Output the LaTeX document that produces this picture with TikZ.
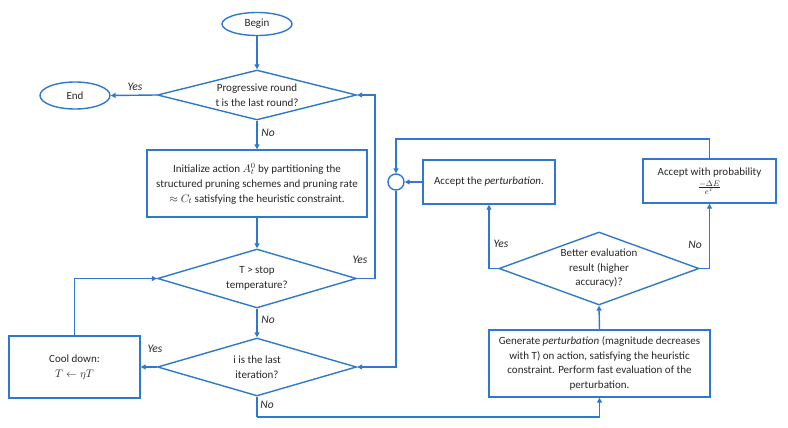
\documentclass[tikz,border=0pt]{standalone}
\usepackage{fontspec}
\setmainfont{Carlito}
\usetikzlibrary{shapes.geometric,arrows.meta}
\definecolor{fb}{RGB}{46,120,206}
\tikzset{
  base/.style={draw=fb, line width=1.4pt, font=\fontsize{11}{14.5}\selectfont, text=black!85, align=center},
  term/.style={base, ellipse, inner sep=0pt},
  dec/.style={base, diamond, inner sep=0pt, aspect=3.2},
  proc/.style={base, rectangle, inner sep=2pt},
  conn/.style={draw=fb, line width=1.4pt, -{Triangle[length=5pt,width=5pt]}},
  plain/.style={draw=fb, line width=1.4pt},
  lab/.style={font=\fontsize{11.5}{13}\selectfont\itshape, text=black!85}
}
\begin{document}
\begin{tikzpicture}[x=1pt,y=-1pt]
\useasboundingbox (0,0) rectangle (788,428);
% nodes
\node[term, minimum width=70pt, minimum height=23pt] (begin) at (257,24) {Begin};
\node[term, minimum width=70pt, minimum height=27pt] (end) at (75,95.5) {End};
\node[dec, minimum width=199pt, minimum height=50pt] (d1) at (257,95) {Progressive round\\t is the last round?};
\node[proc, minimum width=220pt, minimum height=67pt] (init) at (257,183.5) {Initialize action $A_t^0$ by partitioning the\\[1pt]structured pruning schemes and pruning rate\\$\approx C_t$ satisfying the heuristic constraint.};
\node[dec, minimum width=199pt, minimum height=59pt] (d2) at (257,278.5) {T > stop\\temperature?};
\node[dec, minimum width=199pt, minimum height=58pt] (d3) at (257,367) {i is the last\\iteration?};
\node[proc, minimum width=131pt, minimum height=62pt] (cool) at (74.5,367) {Cool down:\\$T \leftarrow \eta T$};
\node[proc, minimum width=221pt, minimum height=67pt] (gen) at (599.5,363.5) {Generate \textit{perturbation} (magnitude decreases\\with T) on action, satisfying the heuristic\\constraint. Perform fast evaluation of the\\perturbation.};
\node[dec, aspect=2.4, minimum width=200pt, minimum height=73pt] (d4) at (599,268.5) {Better evaluation\\result (higher\\accuracy)?};
\node[proc, minimum width=132pt, minimum height=44pt] (acc) at (489,182) {Accept the \textit{perturbation}.};
\node[proc, minimum width=133pt, minimum height=44pt, font=\fontsize{11}{12}\selectfont] (accp) at (709.5,181) {Accept with probability\\[3pt]$\frac{-\Delta E}{e^{T}}$};
\node[draw=fb, line width=1.4pt, circle, minimum size=16pt, inner sep=0pt] (circ) at (396,182) {};
\coordinate (r1) at (375,278.5);
\coordinate (top) at (709.5,139);
\coordinate (bot) at (257,417);
% connectors
\draw[conn] (begin) -- (d1.north);
\draw[conn] (d1.west) -- (end.east);
\draw[conn] (d1.south) -- (init.north);
\draw[conn] (init.south) -- (d2.north);
\draw[plain] (d2.east) -- (r1);
\draw[conn] (r1) |- (d1.east);
\draw[conn] (d2.south) -- (d3.north);
\draw[conn] (d3.west) -- (cool.east);
\draw[conn] (cool.north) |- (d2.west);
\draw[plain] (d3.south) -- (bot);
\draw[conn] (bot) -| (gen.south);
\draw[conn] (gen.north) -- (d4.south);
\draw[conn] (d4.west) -| (acc.south);
\draw[conn] (d4.east) -| (accp.south);
\draw[conn] (acc.west) -- (circ.east);
\draw[plain] (accp.north) -- (top);
\draw[conn] (top) -| (circ.north);
\draw[conn] (circ.south) |- (d3.east);
% labels
\node[lab] (l1) at (135,87) {Yes};
\node[lab] (l2) at (268,133) {No};
\node[lab] (l3) at (360,260) {Yes};
\node[lab] (l4) at (268,320) {No};
\node[lab] (l5) at (155,349) {Yes};
\node[lab] (l6) at (267,405) {No};
\node[lab] (l7) at (501,244) {Yes};
\node[lab] (l8) at (695,245) {No};
\end{tikzpicture}
\end{document}
